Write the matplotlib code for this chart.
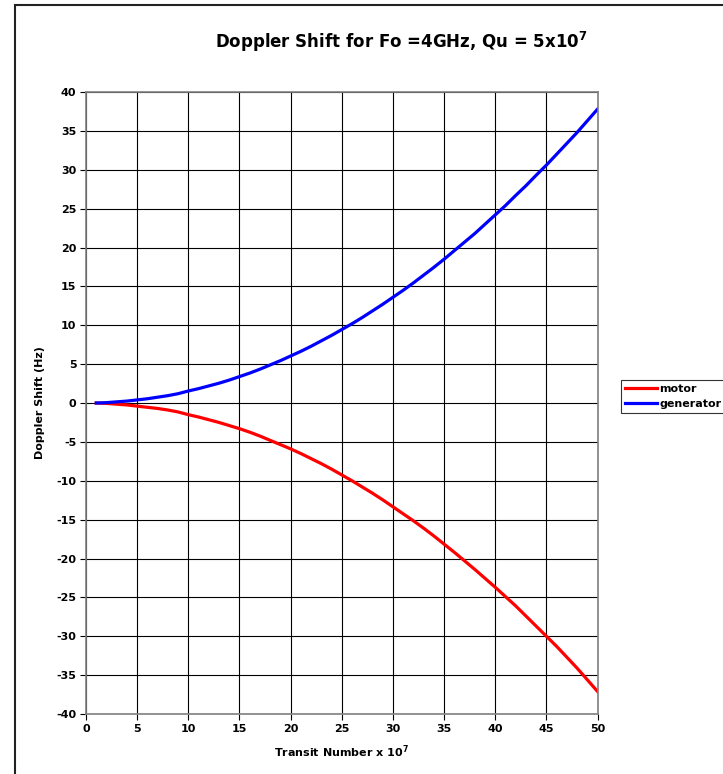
import matplotlib
matplotlib.use("Agg")
import matplotlib.pyplot as plt
from matplotlib.patches import Rectangle

plt.rcParams['font.family'] = ['DejaVu Sans']
plt.rcParams['mathtext.fontset'] = 'dejavusans'
plt.rcParams['axes.unicode_minus'] = False

# transit number (x 10^7) and Doppler shift in Hz
transit = list(range(1, 51))
generator = [0.0, 0.05, 0.15, 0.25, 0.4, 0.55, 0.75, 0.95, 1.2, 1.55,
             1.85, 2.2, 2.55, 2.95, 3.4, 3.85, 4.35, 4.9, 5.45, 6.05,
             6.65, 7.3, 8.0, 8.7, 9.45, 10.2, 11.0, 11.85, 12.7, 13.6,
             14.5, 15.45, 16.45, 17.45, 18.5, 19.6, 20.7, 21.8, 23.0, 24.2,
             25.4, 26.7, 27.95, 29.3, 30.6, 32.0, 33.4, 34.8, 36.3, 37.8]
motor = [0.0, -0.05, -0.15, -0.25, -0.4, -0.55, -0.7, -0.9, -1.15, -1.5,
         -1.8, -2.15, -2.5, -2.9, -3.3, -3.75, -4.25, -4.8, -5.35, -5.9,
         -6.5, -7.15, -7.8, -8.5, -9.25, -10.0, -10.8, -11.6, -12.45, -13.35,
         -14.25, -15.15, -16.1, -17.1, -18.15, -19.2, -20.3, -21.4, -22.55, -23.7,
         -24.9, -26.1, -27.4, -28.7, -30.0, -31.3, -32.7, -34.1, -35.6, -37.1]

xticks = list(range(0, 51, 5))
yticks = list(range(-40, 41, 5))

fig = plt.figure(figsize=(7.23, 7.74), dpi=100)
ax = fig.add_axes([0.119, 0.0775, 0.7075, 0.8036])

ax.plot(transit, motor, color='#ff0000', lw=2.3, label='motor')
ax.plot(transit, generator, color='#0000ff', lw=2.3, label='generator')

ax.set_xlim(0, 50)
ax.set_ylim(-40, 40)
ax.set_xticks(xticks)
ax.set_yticks(yticks)
ax.grid(True, color='black', lw=0.8)
ax.set_axisbelow(True)
for s in ax.spines.values():
    s.set_color('#808080')
    s.set_linewidth(1.2)
ax.tick_params(direction='out', length=4, width=0.8, labelsize=8, pad=3, color='black')
for t in ax.get_xticklabels() + ax.get_yticklabels():
    t.set_fontweight('bold')

ax.set_xlabel(r'Transit Number x 10$^{\mathbf{7}}$', fontsize=8, fontweight='bold', labelpad=7)
ax.set_ylabel('Doppler Shift (Hz)', fontsize=8, fontweight='bold', labelpad=8)

fig.text(0.555, 0.9457, r'Doppler Shift for Fo =4GHz, Qu = 5x10$^{\mathbf{7}}$',
         ha='center', va='center', fontsize=12, fontweight='bold')

leg = fig.legend(loc='upper left', bbox_to_anchor=(0.859, 0.509), fontsize=8,
                 frameon=True, fancybox=False, handlelength=2.9, handletextpad=0.2,
                 borderpad=0.35, labelspacing=0.45, borderaxespad=0)
leg.get_frame().set_edgecolor('black')
leg.get_frame().set_linewidth(0.8)
for t in leg.get_texts():
    t.set_fontweight('bold')

# outer chart border (runs off the right and bottom edges)
fig.patches.append(Rectangle((0.0203, -0.2), 1.2, 1.1935, transform=fig.transFigure,
                             fill=False, edgecolor='#222222', lw=1.5))

fig.savefig('out.png', dpi=100)
